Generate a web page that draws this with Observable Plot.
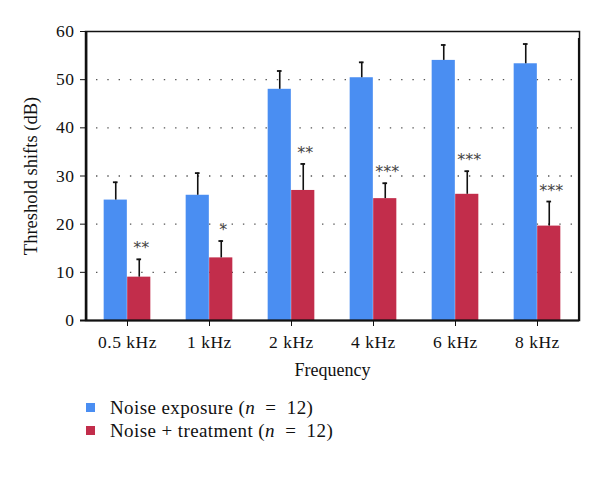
<!DOCTYPE html>
<html>
<head>
<meta charset="utf-8">
<script src="https://cdn.jsdelivr.net/npm/d3@7"></script>
<script src="https://cdn.jsdelivr.net/npm/@observablehq/plot@0.6"></script>
<style>
  html, body { margin: 0; padding: 0; background: #fff; }
  body { width: 600px; font-family: "Liberation Serif", "DejaVu Serif", serif; }
  svg g[aria-label^="x-axis"] text, svg g[aria-label^="y-axis"] text { font-size: 17.5px !important; letter-spacing: 0.5px; fill: #111; }
  #legend { margin-left: 86px; margin-top: 4px; font-size: 19px; color: #111; letter-spacing: 0.4px; }
  .item { display: flex; align-items: center; height: 23px; }
  .sw { width: 9px; height: 9px; margin-right: 15px; }
</style>
</head>
<body>
<div id="chart"></div>
<div id="legend"></div>
<script>
// ---- data ----
const frequencies = ["0.5 kHz", "1 kHz", "2 kHz", "4 kHz", "6 kHz", "8 kHz"];
const noiseExposure = [25.0, 26.0, 48.0, 50.4, 54.0, 53.3];
const noiseExposureErr = [3.7, 4.6, 3.8, 3.2, 3.2, 4.1];
const noiseTreatment = [9.0, 13.0, 27.0, 25.3, 26.2, 19.6];
const noiseTreatmentErr = [3.7, 3.5, 5.5, 3.2, 4.8, 5.1];
const significance = ["**", "*", "**", "***", "***", "***"];
const yTicks = [0, 10, 20, 30, 40, 50, 60];
const gridValues = [10, 20, 30, 40, 50];
const seriesNames = ["Noise exposure", "Noise + treatment"];
const seriesColors = ["#4a8ef2", "#c22d4b"];

const rows = frequencies.map((f, i) => ({
  freq: f,
  exp: noiseExposure[i], expTop: noiseExposure[i] + noiseExposureErr[i],
  trt: noiseTreatment[i], trtTop: noiseTreatment[i] + noiseTreatmentErr[i],
  sig: significance[i]
}));

const W = 600, ML = 85, MR = 21;
const bw = (W - ML - MR) / frequencies.length;
const barW = 23.5;
const half = barW / 2;
const sideInset = bw / 2 - half;
const capInset = bw / 2 - 2.5;
const font = "Liberation Serif";

const chart = Plot.plot({
  width: W,
  height: 392,
  marginLeft: ML,
  marginRight: MR,
  marginTop: 31,
  marginBottom: 72,
  style: { fontFamily: font, fontSize: "17px", color: "#111", background: "#fff" },
  x: { domain: frequencies, padding: 0, label: null, tickSize: 6, tickPadding: 9 },
  y: { domain: [0, 60], ticks: yTicks, label: null, tickSize: 5, tickPadding: 6 },
  marks: [
    Plot.ruleY(gridValues, { stroke: "#555", strokeWidth: 1.4, strokeDasharray: "1.4,9.9", strokeDashoffset: -11 }),
    Plot.barY(rows, { x: "freq", y: "exp", fill: seriesColors[0], insetLeft: sideInset, insetRight: sideInset, dx: -half }),
    Plot.barY(rows, { x: "freq", y: "trt", fill: seriesColors[1], insetLeft: sideInset, insetRight: sideInset, dx: half }),
    Plot.ruleX(rows, { x: "freq", y1: "exp", y2: "expTop", dx: -half, stroke: "#111", strokeWidth: 1.6 }),
    Plot.ruleX(rows, { x: "freq", y1: "trt", y2: "trtTop", dx: half, stroke: "#111", strokeWidth: 1.6 }),
    Plot.tickY(rows, { x: "freq", y: "expTop", dx: -half, insetLeft: capInset, insetRight: capInset, stroke: "#111", strokeWidth: 1.8 }),
    Plot.tickY(rows, { x: "freq", y: "trtTop", dx: half, insetLeft: capInset, insetRight: capInset, stroke: "#111", strokeWidth: 1.8 }),
    Plot.text(rows, { x: "freq", y: "trtTop", text: "sig", dx: half + 2, dy: -11, fontFamily: "DejaVu Sans", fontSize: 16, fill: "#444", lineAnchor: "middle", style: "letter-spacing:3.5px" }),
    Plot.frame({ stroke: "#111", strokeWidth: 1.5 }),
    Plot.ruleY([0], { stroke: "#111", strokeWidth: 2.2, insetLeft: -5 }),
    Plot.ruleX(frequencies.slice(0, 1), { x: d => d, dx: -bw / 2, stroke: "#111", strokeWidth: 2.2 }),
    Plot.ruleX(frequencies.slice(-1), { x: d => d, dx: bw / 2, y1: 0, y2: 60, insetBottom: -7, stroke: "#111", strokeWidth: 1.5 }),
    Plot.text(["Threshold shifts (dB)"], { frameAnchor: "left", textAnchor: "middle", rotate: -90, dx: -54, fontSize: 18.5, fontFamily: font, fill: "#111", style: "letter-spacing:0.6px" }),
    Plot.text(["Frequency"], { frameAnchor: "bottom", textAnchor: "middle", dy: 55, fontSize: 18, fontFamily: font, fill: "#111", style: "letter-spacing:0.6px" })
  ]
});
document.getElementById("chart").appendChild(chart);

const legend = document.getElementById("legend");
seriesNames.forEach((name, i) => {
  const item = document.createElement("div");
  item.className = "item";
  item.innerHTML = `<span class="sw" style="background:${seriesColors[i]}"></span><span>${name} (<i>n</i>&nbsp;&nbsp;=&nbsp;&nbsp;12)</span>`;
  legend.appendChild(item);
});
</script>
</body>
</html>
